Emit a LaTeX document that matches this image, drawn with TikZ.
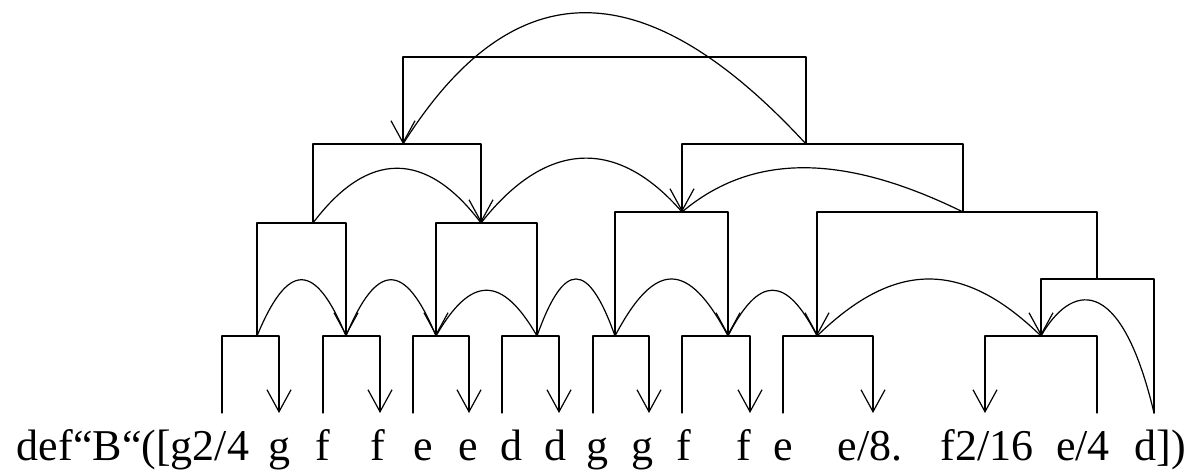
\documentclass[tikz,border=0pt]{standalone}
\usepackage{fontspec}
\setmainfont{Liberation Serif}
\usetikzlibrary{arrows.meta}
\begin{document}
\begin{tikzpicture}[>={Straight Barb[length=11pt,width=12pt]},x=.5pt,y=-.5pt,line width=.6pt,line join=round,line cap=round,font=\fontsize{22}{26}\selectfont,
  notetext/.style={anchor=base,inner sep=0pt}]
\useasboundingbox (0,0) rectangle (1197,474);
%Dãy nốt
\node[notetext] (n0) at (133,461) {def“B“([g2/4};
\node[notetext] (n1) at (279,461) {g};
\node[notetext] (n2) at (323,461) {f};
\node[notetext] (n3) at (378,461) {f};
\node[notetext] (n4) at (423,461) {e};
\node[notetext] (n5) at (468,461) {e};
\node[notetext] (n6) at (511,461) {d};
\node[notetext] (n7) at (555,461) {d};
\node[notetext] (n8) at (597,461) {g};
\node[notetext] (n9) at (642,461) {g};
\node[notetext] (n10) at (684,461) {f};
\node[notetext] (n11) at (744,461) {f};
\node[notetext] (n12) at (783,461) {e};
\node[notetext] (n13) at (870,461) {e/8.};
\node[notetext] (n14) at (987,461) {f2/16};
\node[notetext] (n15) at (1083,461) {e/4};
\node[notetext] (n16) at (1160,461) {d])};
%Điểm nút
\coordinate (h1) at (257,336); \coordinate (h2) at (346,336);
\coordinate (h3) at (436,336); \coordinate (h4) at (537,336);
\coordinate (h5) at (615,336); \coordinate (h6) at (728,336);
\coordinate (h7) at (817,336); \coordinate (h8) at (1041,336);
\coordinate (k1) at (313,223); \coordinate (k2) at (481,223);
\coordinate (k3) at (682,212); \coordinate (k4) at (963,212);
\coordinate (k5) at (1097,279);
\coordinate (m1) at (403,144); \coordinate (m2) at (806,144);
\coordinate (r) at (605,57);
\coordinate (d) at (1154,413);
%Ngoặc tầng 1
\draw[->] (222,413) |- (h1) -| (279,413);
\draw[->] (323,413) |- (h2) -| (380,413);
\draw[->] (413,413) |- (h3) -| (469,413);
\draw[->] (502,413) |- (h4) -| (559,413);
\draw[->] (593,413) |- (h5) -| (649,413);
\draw[->] (682,413) |- (h6) -| (750,413);
\draw[->] (783,413) |- (h7) -| (873,413);
\draw[->] (1097,413) |- (h8) -| (985,413);
%Ngoặc tầng 2
\draw[->] (h1) |- (k1) -| (h2);
\draw[->] (h4) |- (k2) -| (h3);
\draw[->] (h5) |- (k3) -| (h6);
\draw[->] (k5) |- (k4) -| (h7);
\draw[->] (d) |- (k5) -| (h8);
%Ngoặc tầng 3, 4
\draw[->] (k1) |- (m1) -| (k2);
\draw[->] (k4) |- (m2) -| (k3);
\draw[->] (m2) |- (r) -| (m1);
%Cung nối
\draw (h1) .. controls +(31,-75) and +(-31,-75) .. (h2);
\draw (h2) .. controls +(31,-75) and +(-31,-75) .. (h3);
\draw (h3) .. controls +(35,-61) and +(-35,-61) .. (h4);
\draw (h4) .. controls +(27,-76) and +(-27,-76) .. (h5);
\draw (h5) .. controls +(40,-76) and +(-40,-76) .. (h6);
\draw (h6) .. controls +(31,-61) and +(-31,-61) .. (h7);
\draw (h7) .. controls +(78,-76) and +(-78,-76) .. (h8);
\draw (h8) .. controls +(29,-51) and +(-34,-143) .. (d);
\draw (k1) .. controls +(55,-73) and +(-55,-73) .. (k2);
\draw (k2) .. controls +(65,-83) and +(-65,-75) .. (k3);
\draw (k4) .. controls +(-120,-59) and +(70,-59) .. (k3);
\draw (m2) .. controls +(-166,-180) and +(107,-170) .. (m1);
\end{tikzpicture}
\end{document}
